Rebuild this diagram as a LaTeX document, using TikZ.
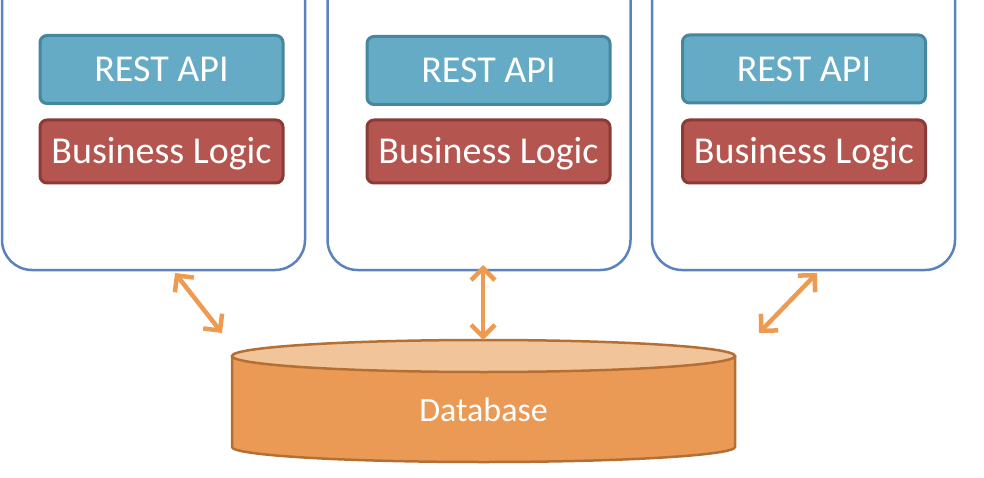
\documentclass[tikz,border=0pt]{standalone}
\usepackage{fontspec}
\setmainfont{Carlito}
\usetikzlibrary{arrows.meta}
\definecolor{svcblue}{HTML}{5A82BF}
\definecolor{apifill}{HTML}{65ABC5}
\definecolor{apiedge}{HTML}{44879E}
\definecolor{logicfill}{HTML}{B4554F}
\definecolor{logicedge}{HTML}{8A3B37}
\definecolor{dbbody}{HTML}{EA9A55}
\definecolor{dbtop}{HTML}{F2C49A}
\definecolor{dbedge}{HTML}{B56F34}
\definecolor{linkorange}{HTML}{EE9B51}
\tikzstyle{service}=[draw=svcblue,line width=2.5pt,fill=white,rounded corners=30pt,minimum width=303pt,minimum height=310pt,inner sep=0pt]
\tikzstyle{part}=[line width=3pt,rounded corners=7pt,minimum width=243pt,inner sep=0pt,text=white,text height=25pt,text depth=0pt,font=\fontsize{38}{46}\selectfont]
\tikzstyle{api}=[part,draw=apiedge,fill=apifill,minimum height=68pt]
\tikzstyle{logic}=[part,draw=logicedge,fill=logicfill,minimum height=63pt]
\tikzstyle{link}=[draw=linkorange,line width=4.5pt,{Straight Barb[length=12pt,width=24pt]}-{Straight Barb[length=12pt,width=24pt]}]

\begin{document}
\begin{tikzpicture}[x=1pt,y=-1pt]
				\useasboundingbox (0,0) rectangle (984,478);
				\clip (0,0) rectangle (984,478);

				% First we draw the three services
				\foreach \n/\x/\ax/\ay in {1/153.5/161.5/69.5, 2/479/488.5/70.5, 3/803.5/804/69}
				{
				\node[service] (service\n) at (\x,115) {};
				\node[api] (api\n) at (\ax,\ay) {REST API};
				\node[logic] (logic\n) at (\ax,151.5) {Business Logic};
				}

				% Then the database
				\fill[dbbody] (232,356) -- (232,447) arc[start angle=180,end angle=0,x radius=251.5,y radius=15] -- (735,356) -- cycle;
				\draw[dbedge,line width=2.5pt] (232,356) -- (232,447) arc[start angle=180,end angle=0,x radius=251.5,y radius=15] -- (735,356);
				\draw[dbedge,fill=dbtop,line width=2.5pt] (483.5,356) ellipse[x radius=251.5,y radius=16];
				\node[text=white,text height=23pt,text depth=0pt,font=\fontsize{34}{40}\selectfont] (db) at (483.5,410) {Database};

				% Connect services with the database
				\coordinate (up1) at (175,273);
				\coordinate (down1) at (222,333);
				\coordinate (up2) at (483,265);
				\coordinate (down2) at (483,340);
				\coordinate (up3) at (817,273);
				\coordinate (down3) at (759,333);
				\foreach \n in {1,2,3}
				\path[link] (up\n) -- (down\n);
			\end{tikzpicture}
\end{document}
